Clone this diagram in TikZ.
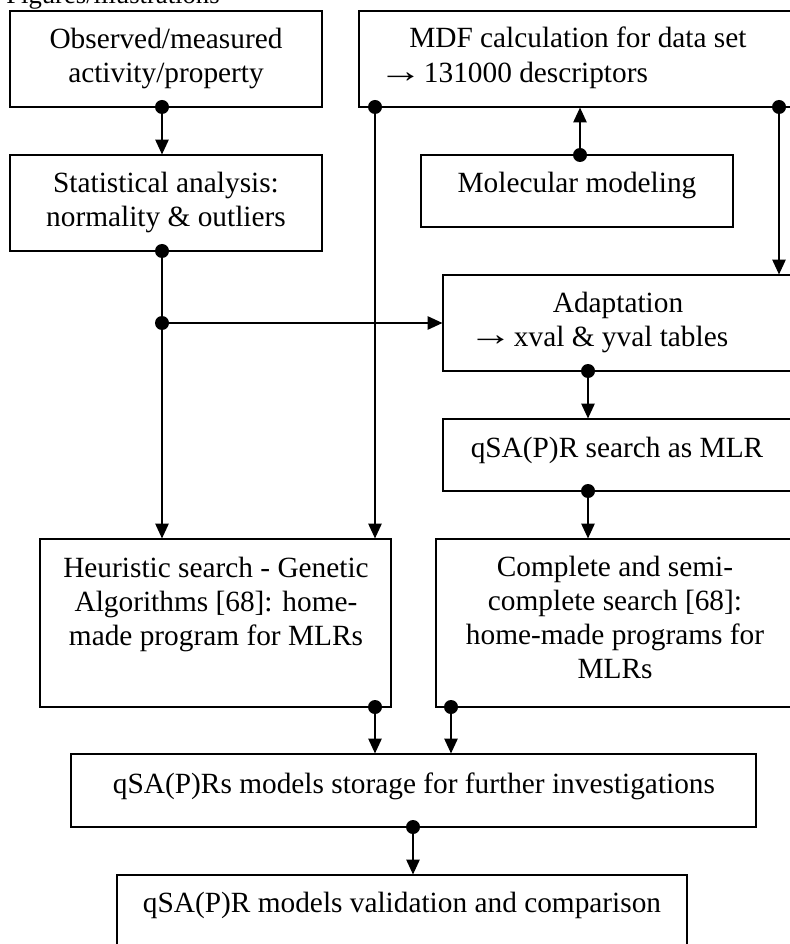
\documentclass[tikz,border=0pt]{standalone}
\usepackage{fontspec}
\usepackage{graphicx}
\setmainfont{Liberation Serif}
\usetikzlibrary{arrows.meta,fit,calc}
\newcommand{\bigarr}{\hspace{-2pt}\raisebox{0.5pt}{\scalebox{1.5}[1.15]{→}}\hspace{1pt}}
\begin{document}
\begin{tikzpicture}[x=0.75pt,y=-0.75pt,
  box/.style={draw, line width=0.9pt, inner sep=0pt, rectangle},
  txt/.style={inner sep=0pt, align=center, font=\fontsize{22}{25.5}\selectfont},
  conn/.style={line width=0.9pt, -{Triangle[length=11pt,width=10pt]}},
  wire/.style={line width=0.9pt},
  dot/.style={circle, fill, inner sep=0pt, minimum size=10.5pt}]
\useasboundingbox (0,0) rectangle (789,944);

% caption
\node[anchor=base west, inner sep=0pt, font=\fontsize{20}{24}\selectfont] (cap) at (6,4) {Figures/illustrations};

% boxes
\node[box, fit={(10,11) (322,107)}] (obs) {};
\node[box, fit={(359,11) (800,107)}] (mdf) {};
\node[box, fit={(421,155) (733,227)}] (mol) {};
\node[box, fit={(10,155) (322,251)}] (stat) {};
\node[box, fit={(443,275) (800,371)}] (adapt) {};
\node[box, fit={(443,419) (800,491)}] (qsa) {};
\node[box, fit={(40,539) (391,707)}] (heur) {};
\node[box, fit={(436,539) (800,707)}] (comp) {};
\node[box, fit={(71,754) (756,827)}] (stor) {};
\node[box, fit={(117,875) (687,960)}] (val) {};

% texts (base anchor = baseline of the last line)
\node[txt, anchor=base] (obs-t) at (166,83) {Observed/measured\\activity/property};
\node[txt, anchor=base west] (mdf-t1) at (409,48) {MDF calculation for data set};
\node[txt, anchor=base west] (mdf-t2) at (381,83) {\bigarr 131000 descriptors};
\node[txt, anchor=base] (mol-t) at (577,193) {Molecular modeling};
\node[txt, anchor=base] (stat-t) at (166,227) {Statistical analysis:\\normality \& outliers};
\node[txt, anchor=base] (adapt-t1) at (618,313) {Adaptation};
\node[txt, anchor=base west] (adapt-t2) at (471,346) {\bigarr xval \& yval tables};
\node[txt, anchor=base] (qsa-t) at (617,457) {qSA(P)R search as MLR};
\node[txt, anchor=base] (heur-t) at (216,645) {Heuristic search - Genetic\\Algorithms [68]: home-\\made program for MLRs};
\node[txt, anchor=base] (comp-t) at (615,678) {Complete and semi-\\complete search [68]:\\home-made programs for\\MLRs};
\node[txt, anchor=base] (stor-t) at (414,793) {qSA(P)Rs models storage for further investigations};
\node[txt, anchor=base] (val-t) at (402,912) {qSA(P)R models validation and comparison};

% dots
\node[dot] (d-obs) at (162,107) {};
\node[dot] (d-mdfl) at (375,107) {};
\node[dot] (d-mdfr) at (779,107) {};
\node[dot] (d-mol) at (580,155) {};
\node[dot] (d-stat) at (162,251) {};
\node[dot] (j) at (162,323) {};
\node[dot] (d-adapt) at (588,371) {};
\node[dot] (d-qsa) at (588,491) {};
\node[dot] (d-heur) at (375,707) {};
\node[dot] (d-comp) at (451,707) {};
\node[dot] (d-stor) at (413,827) {};

% connectors
\draw[conn] (d-obs.center) -- (stat.north -| d-obs);
\draw[conn] (d-mol.center) -- (mdf.south -| d-mol);
\draw[conn] (d-mdfl.center) -- (heur.north -| d-mdfl);
\draw[conn] (d-mdfr.center) -- (adapt.north -| d-mdfr);
\draw[wire] (d-stat.center) -- (j.center);
\draw[conn] (j.center) -- (adapt.west |- j);
\draw[conn] (j.center) -- (heur.north -| j);
\draw[conn] (d-adapt.center) -- (qsa.north -| d-adapt);
\draw[conn] (d-qsa.center) -- (comp.north -| d-qsa);
\draw[conn] (d-heur.center) -- (stor.north -| d-heur);
\draw[conn] (d-comp.center) -- (stor.north -| d-comp);
\draw[conn] (d-stor.center) -- (val.north -| d-stor);
\end{tikzpicture}
\end{document}
